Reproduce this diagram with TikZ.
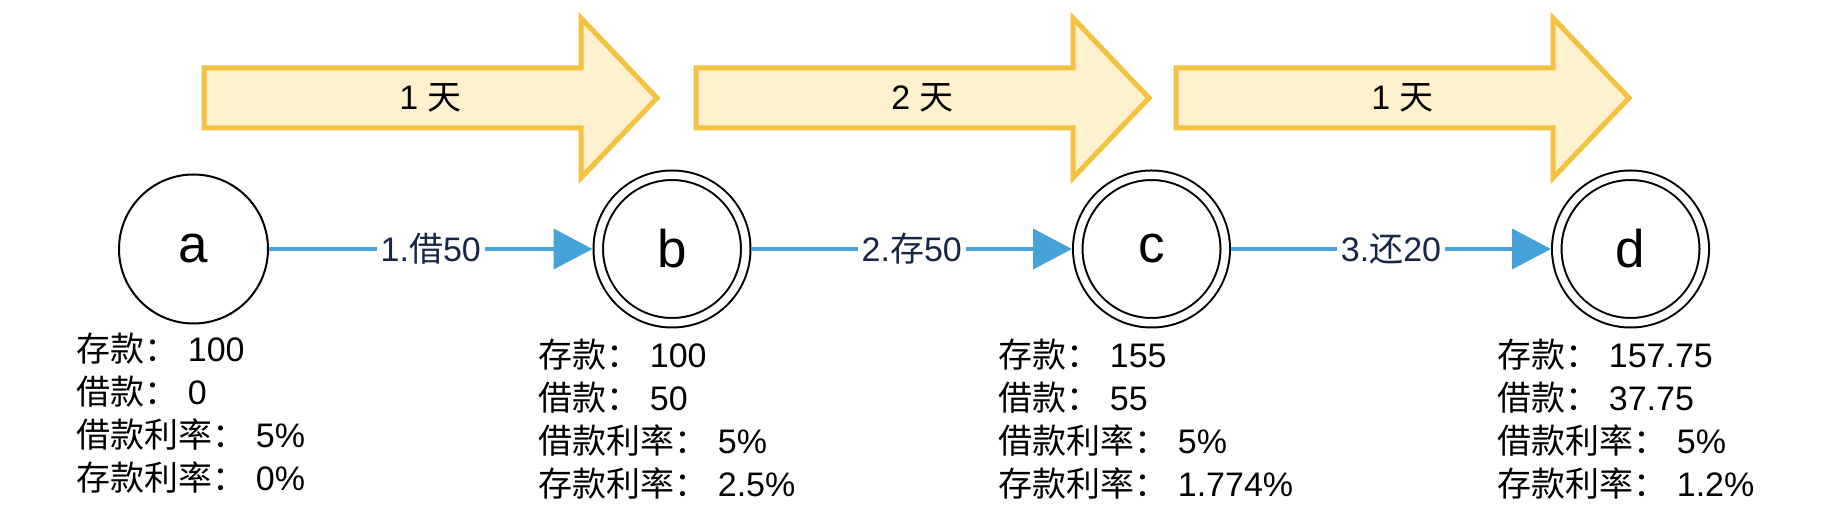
\documentclass[tikz,border=0pt]{standalone}
\usepackage{fontspec}
\setmainfont{Liberation Sans}
\newfontfamily\cjk{Noto Sans CJK SC}
\usetikzlibrary{arrows.meta}
\definecolor{dayfill}{RGB}{255,241,205}
\definecolor{dayline}{RGB}{243,194,64}
\definecolor{stepblue}{RGB}{70,163,217}
\definecolor{stepnavy}{RGB}{22,38,70}
\tikzset{
    pics/dayarrow/.style={code={
        \pgfmathsetmacro{\l}{453}
        \pgfmathsetmacro{\hd}{76}
        % block arrow with the number of days
        \filldraw[fill=dayfill, draw=dayline, line width=2.5pt, line join=miter]
            (0,-30) -- ({\l-\hd},-30) -- ({\l-\hd},-80) -- (\l,0) -- ({\l-\hd},80) -- ({\l-\hd},30) -- (0,30) -- cycle;
        \node[daytext] (-txt) at ({\l/2},0) {#1};
    }},
    daytext/.style={font=\fontsize{17pt}{20pt}\selectfont},
    snapshot/.style={circle, draw=black, line width=1pt, minimum size=74.5pt, font=\fontsize{26.5pt}{30pt}\selectfont},
    snapshotdbl/.style={snapshot, double=white, double distance=3.75pt, minimum size=73.75pt, outer sep=2.875pt},
    stepline/.style={draw=stepblue, line width=2pt, -{Triangle[length=19.5pt,width=20pt]}},
    steplabel/.style={fill=white, text=stepnavy, inner xsep=2pt, inner ysep=1pt, font=\fontsize{17pt}{20pt}\selectfont},
    infotext/.style={anchor=north west, inner sep=0pt, align=left, font=\fontsize{17pt}{21.5pt}\selectfont}
}

\begin{document}
\begin{tikzpicture}[x=0.5pt, y=-0.5pt]
    \path[fill=white, use as bounding box] (0,0) rectangle (1842,512);
    % days between the snapshots
    \foreach \x/\days in {204/1, 696/2, 1176/1}
        \pic (day\x) at (\x,98) {dayarrow={\days\ {\cjk 天}}};
    \node[snapshot] (a) at (193.5,249) {a};
    \foreach \n/\x in {b/672, c/1151.5, d/1630.5}
        \node[snapshotdbl] (\n) at (\x,249) {\n};
    \foreach \s/\t/\lab in {a/b/{1.{\cjk 借}50}, b/c/{2.{\cjk 存}50}, c/d/{3.{\cjk 还}20}}
        \draw[stepline] (\s) -- (\t) node[steplabel, midway] {\lab};
    % balances and rates
    \foreach \n/\x/\y/\dep/\loan/\rate in {a/76/333/100/0/0, b/538/339/100/50/2.5, c/998/339/155/55/1.774, d/1497/339/157.75/37.75/1.2}
        \node[infotext] (\n-info) at (\x,\y) {{\cjk 存款：} \dep\\ {\cjk 借款：} \loan\\ {\cjk 借款利率：} 5\%\\ {\cjk 存款利率：} \rate\%};
\end{tikzpicture}
\end{document}
